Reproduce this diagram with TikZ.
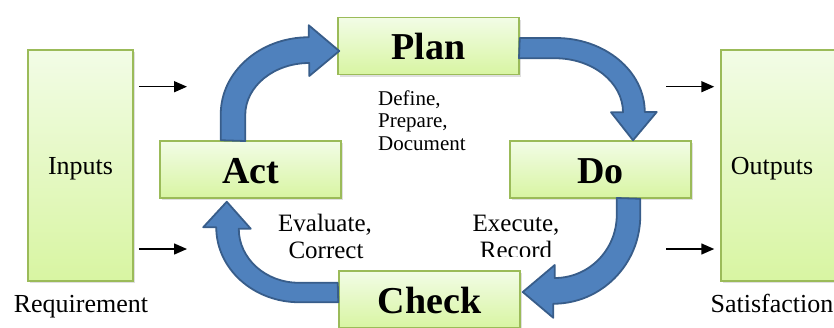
\documentclass[tikz,border=0pt]{standalone}
\usepackage{fontspec}
\setmainfont{Liberation Serif}
\usetikzlibrary{arrows.meta,calc,shadows}
\definecolor{boxtop}{HTML}{F2FCE6}
\definecolor{boxbot}{HTML}{D8F5A2}
\definecolor{boxline}{HTML}{9BBB59}
\definecolor{arrfill}{HTML}{4F81BD}
\definecolor{arrline}{HTML}{385D8A}
\begin{document}
\begin{tikzpicture}[x=1pt,y=-1pt,
  box/.style={draw=boxline, line width=1.5pt, top color=boxtop, bottom color=boxbot,
    drop shadow={shadow xshift=1.5pt,shadow yshift=-2pt,opacity=0.25}, inner sep=0pt},
  phase/.style={box, font=\bfseries\fontsize{38}{40}\selectfont, text height=27pt, text depth=0pt,
    minimum width=181pt, minimum height=57pt},
  io/.style={box, font=\fontsize{26}{28}\selectfont, text height=18pt, text depth=0pt,
    minimum width=105pt, minimum height=231pt},
  iolbl/.style={inner sep=0pt, anchor=base, font=\fontsize{26}{28}\selectfont},
  lbl/.style={inner sep=0pt, anchor=base, font=\fontsize{25}{27}\selectfont},
  note/.style={inner sep=0pt, anchor=base west, font=\fontsize{21}{22}\selectfont},
  bigarrow/.style={fill=arrfill, draw=arrline, line width=1.8pt, line join=round},
  smallarrow/.style={line width=1.5pt, -{Triangle[length=13pt,width=11pt]}}
]
\useasboundingbox (0,0) rectangle (834,327);

% boxes
\node[io] (inputs) at (80.5,165.5) {Inputs};
\node[io, minimum width=129pt] (outputs) at (785.5,165.5) {};
\node[iolbl] (outlbl) at (772,174.5) {Outputs};
\node[phase] (plan) at (428.5,46) {Plan};
\node[phase] (act) at (250.5,169.5) {Act};
\node[phase] (do) at (600.5,169.5) {Do};
\node[phase] (check) at (429.5,299.5) {Check};

% labels
\node[iolbl] (req) at (81,312) {Requirement};
\node[iolbl] (sat) at (772,312) {Satisfaction};
\node[note] (n1) at (378,105.7) {Define,};
\node[note] (n2) at (378,127.7) {Prepare,};
\node[note] (n3) at (378,150) {Document};
\node[lbl] (e1) at (325,231.7) {Evaluate,};
\node[lbl] (e2) at (326,258.3) {Correct};
\node[lbl] (x1) at (516,231.7) {Execute,};
\begin{scope}
  \clip (440,200) rectangle (600,256.5);
  \node[lbl] (x2) at (516,258.3) {Record};
\end{scope}

% small arrows
\coordinate (i1) at (187,86.7);
\coordinate (i2) at (187,249);
\coordinate (o1) at (666,86.7);
\coordinate (o2) at (666,249);
\draw[smallarrow] ($(inputs.east |- i1)+(5,0)$) -- (i1);
\draw[smallarrow] ($(inputs.east |- i2)+(5,0)$) -- (i2);
\draw[smallarrow] (o1) -- ($(outputs.west |- o1)+(-6,0)$);
\draw[smallarrow] (o2) -- ($(outputs.west |- o2)+(-6,0)$);

% Act -> Plan
\draw[bigarrow] ($(act.north west)+(61.5,0)$) -- ++(0,-26)
  arc[start angle=180,end angle=270,x radius=88,y radius=77]
  -- ++(0,-12) -- ($(plan.west)+(2,5)$) -- ++(-30,25) -- ++(0,-13)
  arc[start angle=270,end angle=180,x radius=64,y radius=52]
  -- ++(0,26) -- cycle;
% Plan -> Do
\draw[bigarrow] ($(plan.east)+(0,-8)$) -- ++(36,0)
  arc[start angle=270,end angle=360,x radius=89,y radius=74]
  -- ++(12,0) -- ($(do.north)+(32.5,0)$) -- ++(-22,-28) -- ++(12,0)
  arc[start angle=360,end angle=270,x radius=68,y radius=54]
  -- ++(-36,0) -- cycle;
% Do -> Check
\draw[bigarrow] ($(do.south west)+(131,0)$) -- ++(0,17)
  arc[start angle=0,end angle=90,x radius=87,y radius=88]
  -- ++(0,14) -- ($(check.east)+(2,-7.5)$) -- ++(32,-27) -- ++(0,13)
  arc[start angle=90,end angle=0,x radius=62,y radius=63]
  -- ++(0,-17) -- cycle;
% Check -> Act
\draw[bigarrow] ($(check.north west)+(0,32)$) -- ++(-39,0)
  arc[start angle=90,end angle=180,x radius=83,y radius=75]
  -- ++(-13,0) -- ($(act.south west)+(67.5,3)$) -- ++(24,27) -- ++(-12,0)
  arc[start angle=180,end angle=90,x radius=60,y radius=54]
  -- ++(39,0) -- cycle;
\end{tikzpicture}
\end{document}
